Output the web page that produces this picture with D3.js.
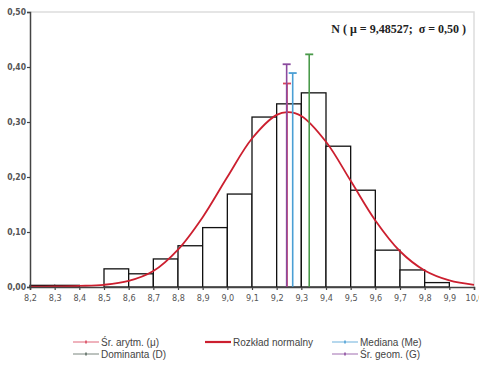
<!DOCTYPE html>
<html>
<head>
<meta charset="utf-8">
<script src="https://cdn.jsdelivr.net/npm/d3@7"></script>
<style>
  body { margin: 0; background: #fff; }
  svg { display: block; }
  .tick text { font-family: "Liberation Sans Narrow", "DejaVu Sans Condensed", sans-serif; fill: #555; }
  .legend text { font-family: "Liberation Sans", Arial, sans-serif; font-size: 10px; fill: #444; }
</style>
</head>
<body>
<svg id="chart"></svg>
<script>
// histogram bins (lower edge, relative frequency)
const binStarts = [8.2, 8.3, 8.4, 8.5, 8.6, 8.7, 8.8, 8.9, 9.0, 9.1, 9.2, 9.3, 9.4, 9.5, 9.6, 9.7, 9.8, 9.9];
const binValues = [0.003, 0.003, 0, 0.033, 0.024, 0.051, 0.075, 0.108, 0.169, 0.309, 0.333, 0.353, 0.256, 0.176, 0.067, 0.031, 0.008, 0];

// normal curve
const curveX = [8.2, 8.3, 8.4, 8.5, 8.6, 8.7, 8.8, 8.9, 9.0, 9.1, 9.2, 9.245, 9.3, 9.4, 9.5, 9.6, 9.7, 9.8, 9.9, 10.0];
const curveY = [0.0005, 0.001, 0.002, 0.004, 0.011, 0.029, 0.068, 0.127, 0.2, 0.27, 0.313, 0.318, 0.311, 0.264, 0.193, 0.121, 0.065, 0.03, 0.012, 0.004];

// statistics markers
const statNames = ["Śr. arytm. (μ)", "Mediana (Me)", "Dominanta (D)", "Śr. geom. (G)"];
const statX = [9.242, 9.265, 9.332, 9.2405];
const statY = [0.370, 0.389, 0.423, 0.405];
const statColors = ["#d9435a", "#4a9fd4", "#4a9a4a", "#8a4a9e"];

const xTicks = [8.2, 8.3, 8.4, 8.5, 8.6, 8.7, 8.8, 8.9, 9.0, 9.1, 9.2, 9.3, 9.4, 9.5, 9.6, 9.7, 9.8, 9.9, 10.0];
const yTicks = [0, 0.1, 0.2, 0.3, 0.4, 0.5];

const width = 479, height = 365;
const margin = { top: 12, right: 5, bottom: 78, left: 30 };

const svg = d3.select("#chart").attr("width", width).attr("height", height);

const x = d3.scaleLinear().domain([8.2, 10.0]).range([margin.left, width - margin.right]);
const y = d3.scaleLinear().domain([0, 0.5]).range([height - margin.bottom, margin.top]);

const comma = (f) => (v) => d3.format(f)(v).replace(".", ",");

// frame
svg.append("path")
    .attr("d", `M${x(8.2)},${y(0.5)}H${x(10)}V${y(0)}`)
    .attr("fill", "none")
    .attr("stroke", "#ddd")
    .attr("stroke-width", 1.5);

// bars
svg.append("g").selectAll("rect")
    .data(binStarts)
    .join("rect")
    .attr("x", (d) => x(d))
    .attr("width", (d) => x(d + 0.1) - x(d))
    .attr("y", (d, i) => y(binValues[i]))
    .attr("height", (d, i) => y(0) - y(binValues[i]))
    .attr("fill", "#fff")
    .attr("stroke", "#111")
    .attr("stroke-width", 1.3);

// normal curve
const line = d3.line()
    .x((d, i) => x(curveX[i]))
    .y((d) => y(d))
    .curve(d3.curveCatmullRom);

svg.append("path")
    .datum(curveY)
    .attr("d", line)
    .attr("fill", "none")
    .attr("stroke", "#cc1f2f")
    .attr("stroke-width", 1.8);

// stat lines with caps
const stats = svg.append("g");
[0, 1, 2, 3].forEach((i) => {
    stats.append("line")
        .attr("x1", x(statX[i])).attr("x2", x(statX[i]))
        .attr("y1", y(0)).attr("y2", y(statY[i]))
        .attr("stroke", statColors[i]).attr("stroke-width", 1.6);
    stats.append("line")
        .attr("x1", x(statX[i]) - 4).attr("x2", x(statX[i]) + 4)
        .attr("y1", y(statY[i])).attr("y2", y(statY[i]))
        .attr("stroke", statColors[i]).attr("stroke-width", 1.8);
});

// axes
const xAxis = svg.append("g")
    .attr("transform", `translate(0,${y(0)})`)
    .call(d3.axisBottom(x).tickValues(xTicks).tickSize(3).tickFormat(comma(".1f")));
xAxis.selectAll("text").attr("font-size", 9).attr("dy", "0.9em");

const yAxis = svg.append("g")
    .attr("transform", `translate(${margin.left},0)`)
    .call(d3.axisLeft(y).tickValues(yTicks).tickSize(3).tickFormat(comma(".2f")));
yAxis.selectAll("text").attr("font-size", 8.5).attr("font-weight", "bold").attr("x", -4);

[xAxis, yAxis].forEach((a) => {
    a.select(".domain").attr("stroke", "#444").attr("stroke-width", 1.5);
    a.selectAll(".tick line").attr("stroke", "#444").attr("stroke-width", 1.2);
});

// header
svg.append("text")
    .attr("x", 466).attr("y", 33)
    .attr("text-anchor", "end")
    .attr("font-family", "Liberation Serif, Times New Roman, serif")
    .attr("font-weight", "bold")
    .attr("font-size", 12)
    .attr("fill", "#222")
    .attr("xml:space", "preserve")
    .text("N ( μ = 9,48527;  σ = 0,50 )");

// legend
const legendItems = [
    { label: statNames[0], color: statColors[0], x: 73, y: 342, thick: false },
    { label: "Rozkład normalny", color: "#cc1f2f", x: 205, y: 342, thick: true },
    { label: statNames[1], color: statColors[1], x: 332, y: 342, thick: false },
    { label: statNames[2], color: "#5a6a60", x: 73, y: 354, thick: false },
    { label: statNames[3], color: statColors[3], x: 332, y: 354, thick: false }
];

const legend = svg.append("g").attr("class", "legend");
legendItems.forEach((d) => {
    legend.append("line")
        .attr("x1", d.x).attr("x2", d.x + 26)
        .attr("y1", d.y).attr("y2", d.y)
        .attr("stroke", d.color)
        .attr("stroke-width", d.thick ? 2.2 : 1)
        .attr("opacity", d.thick ? 1 : 0.8);
    if (!d.thick) {
        legend.append("line")
            .attr("x1", d.x + 13).attr("x2", d.x + 13)
            .attr("y1", d.y - 1.5).attr("y2", d.y + 1.5)
            .attr("stroke", d.color).attr("stroke-width", 1.5);
    }
    legend.append("text")
        .attr("x", d.x + 28).attr("y", d.y)
        .attr("dy", "0.35em")
        .text(d.label);
});
</script>
</body>
</html>
